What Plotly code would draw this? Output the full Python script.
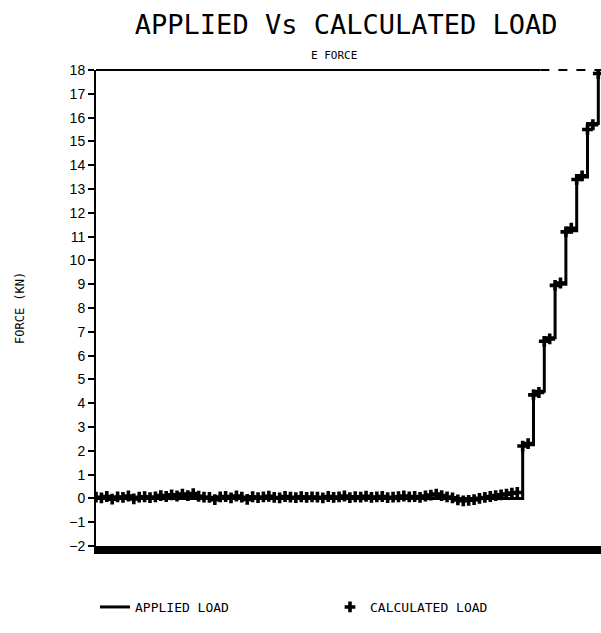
import plotly.graph_objects as go

# ---- data ----
sample_index = list(range(94))

calculated_zero = [
    0.05, 0.02, 0.08, -0.03, 0.06, 0.04, 0.10, -0.02, 0.05, 0.07, 0.03,
    0.06, 0.12, 0.08, 0.15, 0.10, 0.18, 0.12, 0.20, 0.09, 0.05,
    0.04, -0.05, 0.06, 0.08, 0.02, 0.10, 0.05, -0.04, 0.07, 0.03,
    0.06, 0.09, 0.04, 0.02, 0.08, 0.05, 0.03, 0.07, 0.04, 0.06,
    0.05, 0.02, 0.08, 0.04, 0.06, 0.10, 0.03, 0.07, 0.05, 0.09,
    0.04, 0.06, 0.08, 0.03, 0.05, 0.07, 0.10, 0.06, 0.08, 0.04,
    0.10, 0.14, 0.18, 0.12, 0.06, 0.02, -0.06, -0.10, -0.08, -0.05,
    0.00, 0.04, 0.08, 0.12, 0.15, 0.18, 0.22, 0.25,
]
calculated_steps = [
    2.20, 2.30,
    4.35, 4.45,
    6.60, 6.70,
    8.95, 9.05,
    11.20, 11.35,
    13.40, 13.55,
    15.50, 15.70,
    17.85,
]
calculated_load = calculated_zero + calculated_steps

applied_levels = [0.0, 2.25, 4.5, 6.75, 9.0, 11.25, 13.5, 15.75, 18.0]
applied_counts = [79, 2, 2, 2, 2, 2, 2, 2, 1]
applied_load = []
for lvl, n in zip(applied_levels, applied_counts):
    applied_load += [lvl] * n

y_ticks = list(range(-2, 19))

title_text = "APPLIED Vs CALCULATED LOAD"
subtitle_text = "E FORCE"
y_title = "FORCE (KN)"

MONO = "DejaVu Sans Mono"
legend_font = dict(family=MONO, size=13, color="black")

fig = go.Figure()
fig.add_trace(go.Scatter(
    x=sample_index, y=applied_load, name="APPLIED LOAD", mode="lines",
    line=dict(color="black", width=3, shape="hv"), legend="legend",
))
fig.add_trace(go.Scatter(
    x=sample_index, y=calculated_load, name="CALCULATED LOAD", mode="markers",
    marker=dict(symbol="cross", size=9, color="black"), legend="legend2",
))

fig.update_layout(
    width=601, height=633,
    margin=dict(l=96, r=0, t=70, b=87, autoexpand=False),
    paper_bgcolor="white", plot_bgcolor="white",
    showlegend=True,
    legend=dict(
        xref="container", yref="container",
        x=95 / 601, xanchor="left", y=1 - 607 / 633, yanchor="middle",
        font=legend_font, bgcolor="rgba(0,0,0,0)",
    ),
    legend2=dict(
        xref="container", yref="container",
        x=330 / 601, xanchor="left", y=1 - 607 / 633, yanchor="middle",
        font=legend_font, bgcolor="rgba(0,0,0,0)",
    ),
    title=dict(
        text=title_text, x=0.576, xanchor="center", y=1 - 25 / 633, yanchor="middle",
        xref="container", yref="container",
        font=dict(family=MONO, size=27, color="black"),
    ),
    annotations=[
        dict(text=subtitle_text, xref="paper", yref="paper", x=0.471, y=1.0315,
             showarrow=False, xanchor="center", yanchor="middle",
             font=dict(family=MONO, size=11, color="black")),
        dict(text=y_title, xref="paper", yref="paper", x=0, y=0.5, xshift=-76,
             textangle=-90, showarrow=False, xanchor="center", yanchor="middle",
             font=dict(family=MONO, size=12, color="black")),
    ],
    shapes=[
        dict(type="line", xref="paper", yref="paper", x0=0, x1=0.88, y0=1, y1=1,
             line=dict(color="black", width=2)),
        dict(type="line", xref="paper", yref="paper", x0=0.88, x1=1, y0=1, y1=1,
             line=dict(color="black", width=2, dash="dash")),
    ],
)

fig.update_xaxes(
    range=[0, 93.5], showgrid=False, zeroline=False, showticklabels=False,
    showline=True, linecolor="black", linewidth=8, ticks="",
    automargin=False,
)
fig.update_yaxes(
    range=[-2, 18], tickvals=y_ticks, showgrid=False, zeroline=False,
    showline=True, linecolor="black", linewidth=2,
    ticks="outside", ticklen=6, tickwidth=2, tickcolor="black",
    tickfont=dict(family="Liberation Sans", size=14, color="black"),
    automargin=False,
)

fig.write_html("out.html")
